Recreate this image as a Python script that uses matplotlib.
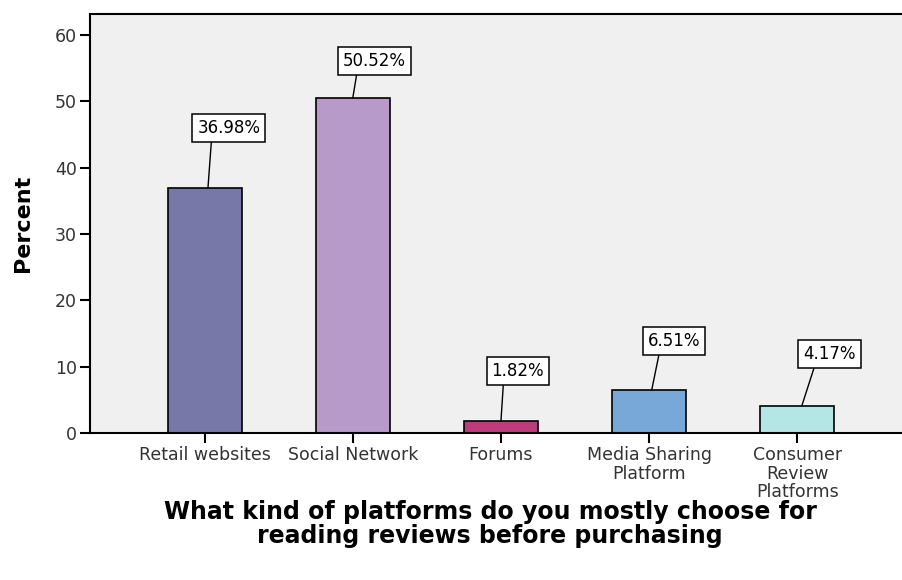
"""
Bar chart of which platforms people read reviews on before purchasing
"""

import matplotlib

matplotlib.use("Agg")
import matplotlib.pyplot as plt

# data
CATEGORIES: list[str] = [
    "Retail websites",
    "Social Network",
    "Forums",
    "Media Sharing\nPlatform",
    "Consumer\nReview\nPlatforms",
]
PERCENTS: list[float] = [36.98, 50.52, 1.82, 6.51, 4.17]
BAR_COLORS: list[str] = ["#7878a8", "#b89aca", "#be3c7c", "#78a8d8", "#b4e6e6"]
Y_TICKS: list[int] = [0, 10, 20, 30, 40, 50, 60]

# value label layout: (box x offset from bar, box y in percent, leader end x offset)
LABEL_POS: list[tuple[float, float, float]] = [
    (0.162, 46.0, 0.022),
    (0.146, 56.1, 0.0),
    (0.114, 9.35, 0.0),
    (0.169, 13.9, 0.018),
    (0.220, 11.9, 0.032),
]

BG_COLOR: str = "#f0f0f0"
TEXT_COLOR: str = "#333333"


def plot_chart() -> None:
    """draws the chart and saves it to out.png"""
    fig = plt.figure(figsize=(9.02, 5.80), dpi=100)
    ax = fig.add_axes((89.5 / 902, 1 - 433.3 / 580, 1 - 89.5 / 902, 419.8 / 580))
    ax.set_facecolor(BG_COLOR)

    xs = list(range(len(CATEGORIES)))
    ax.bar(xs, PERCENTS, width=0.5, color=BAR_COLORS, edgecolor="black",
           linewidth=1.2, zorder=2)

    for i, val in enumerate(PERCENTS):
        dx, ly, ex = LABEL_POS[i]
        ax.annotate(
            f"{val:.2f}%",
            xy=(i + ex, val),
            xytext=(i + dx, ly),
            ha="center",
            va="center",
            fontsize=12,
            color="black",
            bbox=dict(boxstyle="square,pad=0.3", fc="white", ec="black", lw=1.1),
            arrowprops=dict(arrowstyle="-", color="black", lw=1.0,
                            relpos=(0.23, 0.0), shrinkA=0, shrinkB=0),
            zorder=3,
        )

    ax.set_xlim(-0.778, 4.708)
    ax.set_ylim(0, 63.2)
    ax.set_xticks(xs)
    ax.set_xticklabels(CATEGORIES, fontsize=12.5, color=TEXT_COLOR, linespacing=1.05)
    ax.set_yticks(Y_TICKS)
    ax.set_yticklabels([str(t) for t in Y_TICKS], fontsize=12.5, color=TEXT_COLOR)
    ax.tick_params(axis="both", direction="out", length=7, width=1.5, color="black",
                   pad=2)

    for side in ("left", "bottom", "top"):
        ax.spines[side].set_linewidth(1.5)
        ax.spines[side].set_color("black")
    ax.spines["right"].set_visible(False)

    ax.set_ylabel("Percent", fontsize=16, fontweight="bold")
    ax.yaxis.set_label_coords(-0.07, 0.5)
    ax.set_xlabel(
        "What kind of platforms do you mostly choose for\n"
        "reading reviews before purchasing",
        fontsize=17,
        fontweight="bold",
        linespacing=1.0,
    )
    ax.xaxis.set_label_coords(0.493, -0.158)

    fig.savefig("out.png", dpi=100)


if __name__ == "__main__":
    plot_chart()
